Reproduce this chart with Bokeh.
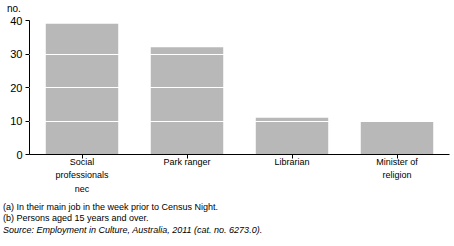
from bokeh.plotting import figure
from bokeh.models import FixedTicker, ColumnDataSource, Div
from bokeh.layouts import column
from bokeh.embed import file_html
from bokeh.resources import INLINE

categories = ["Social\nprofessionals\nnec", "Park ranger", "Librarian", "Minister of\nreligion"]
values = [39, 32, 11, 10]
y_ticks = [0, 10, 20, 30, 40]
unit_label = "no."
footnotes = ["(a) In their main job in the week prior to Census Night.",
             "(b) Persons aged  15 years and over."]
source_note = "Source: Employment in Culture, Australia, 2011 (cat. no. 6273.0)."

FONT = "Liberation Sans"

src = ColumnDataSource(dict(cat=categories, val=values))

p = figure(x_range=categories, y_range=(0, 40), width=454, height=184,
           output_backend="svg", toolbar_location=None,
           min_border_left=29, min_border_right=5, min_border_top=6, min_border_bottom=44)
p.outline_line_color = None
p.background_fill_color = "white"
p.border_fill_color = "white"

p.vbar(x="cat", top="val", width=0.69, source=src, color="#b8b8b8", line_color=None)

p.xgrid.visible = False
p.ygrid.ticker = FixedTicker(ticks=[10, 20, 30])
p.ygrid.grid_line_color = "white"
p.ygrid.grid_line_width = 1
p.ygrid.level = "overlay"

p.yaxis.ticker = FixedTicker(ticks=y_ticks)
p.yaxis.minor_tick_line_color = None
p.yaxis.major_tick_out = 4
p.yaxis.major_tick_in = 0
p.yaxis.major_label_standoff = 3
p.yaxis.axis_line_color = "black"
p.yaxis.major_label_text_font = FONT
p.yaxis.major_label_text_font_size = "11px"
p.yaxis.major_label_text_color = "black"

p.xaxis.major_tick_out = 4
p.xaxis.major_tick_in = 0
p.xaxis.major_label_standoff = -2
p.xaxis.major_label_text_font = FONT
p.xaxis.major_label_text_font_size = "9px"
p.xaxis.major_label_text_color = "black"
p.xaxis.major_label_text_line_height = 1.38
p.xaxis.axis_line_color = "black"

base = f"font-family:'{FONT}';color:black;white-space:nowrap;"
top_div = Div(text=f'<div style="{base}font-size:10px;line-height:14px;padding-left:7px;">{unit_label}</div>',
              width=454, height=14, margin=(0, 0, 0, 0))
bottom_div = Div(text=(f'<div style="{base}font-size:9px;line-height:11px;padding-top:4px;padding-left:3px;">'
                       f'<div>{footnotes[0]}</div><div>{footnotes[1]}</div>'
                       f'<div style="font-style:italic;margin-top:1px;">{source_note}</div></div>'),
                 width=454, height=48, margin=(0, 0, 0, 0))

layout = column(top_div, p, bottom_div, spacing=0)

open("out.html", "w").write(file_html(layout, INLINE))
